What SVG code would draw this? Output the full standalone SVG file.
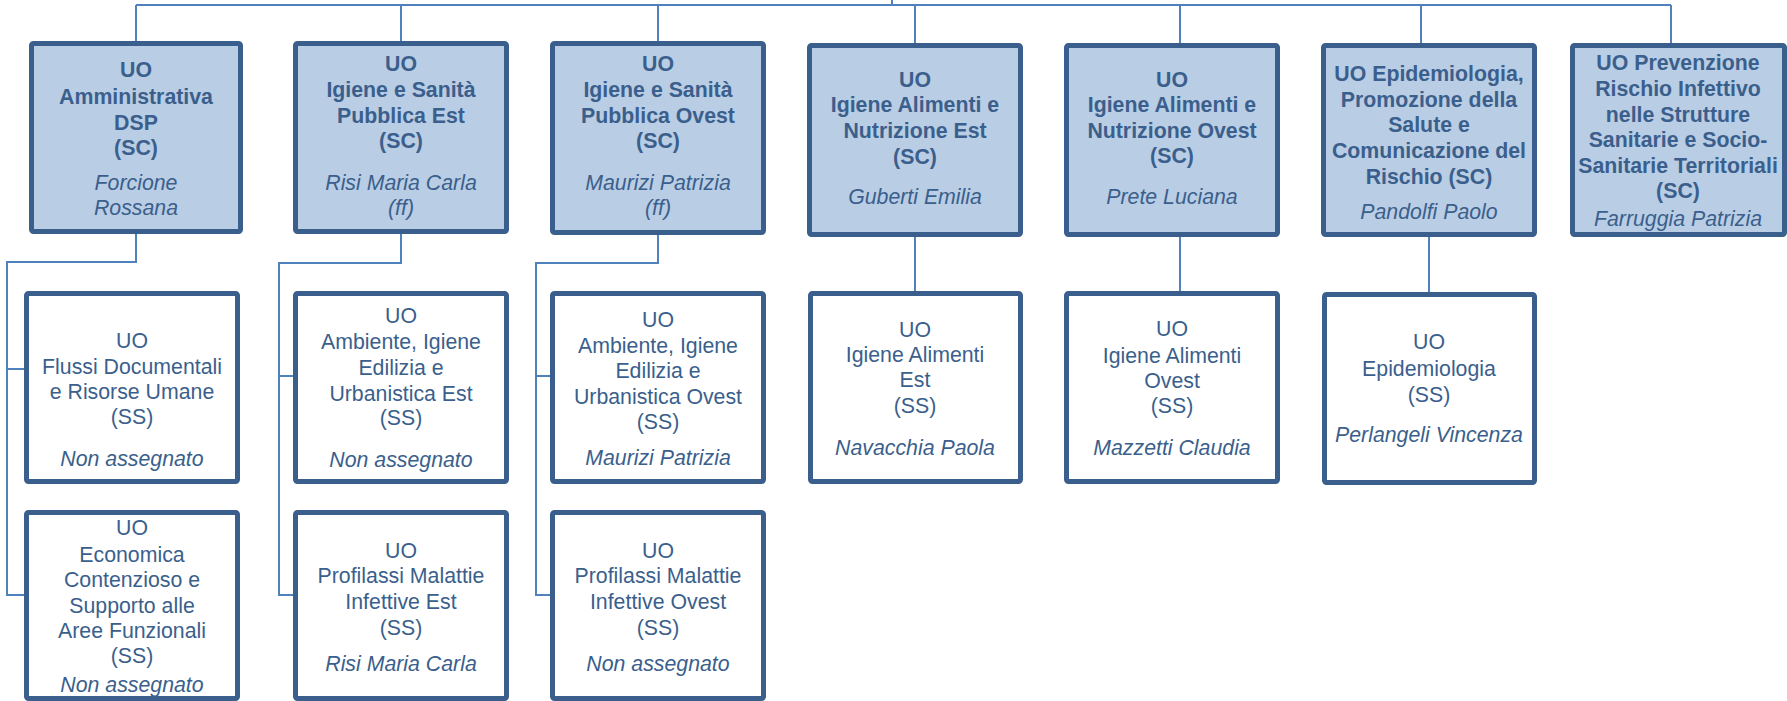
<svg xmlns="http://www.w3.org/2000/svg" width="1787" height="701" viewBox="0 0 1787 701">
<style>
.sc{fill:#b9cde4;stroke:#3b5f8c;stroke-width:5}
.ss{fill:#ffffff;stroke:#3b5f8c;stroke-width:5}
.c{fill:none;stroke:#4f81bd;stroke-width:2}
text{font-family:"Liberation Sans",Arial,sans-serif;font-size:21.3px;fill:#3b5f8c;text-anchor:middle}
.b{font-weight:bold}
.i{font-style:italic}
</style>
<rect width="1787" height="701" fill="#ffffff"/>
<g id="connectors">
<path class="c" d="M892,0V5M136,5H1671M136,5V42M401,5V42M658,5V42M915,5V44M1180,5V44M1421,5V44M1671,5V44"/>
<path class="c" d="M136,233V262H7V595H26M7,369H26"/>
<path class="c" d="M401,233V263H279V595H295M279,376H295"/>
<path class="c" d="M658,234V263H536V595H552M536,376H552"/>
<path class="c" d="M915,236V292M1180,236V292M1429,236V293"/>
</g>
<g id="n1">
<rect class="sc" x="31.5" y="43.5" width="209" height="188" rx="2"/>
<text class="b" x="136" y="77">UO</text>
<text class="b" x="136" y="104">Amministrativa</text>
<text class="b" x="136" y="130">DSP</text>
<text class="b" x="136" y="155">(SC)</text>
<text class="i" x="136" y="190">Forcione</text>
<text class="i" x="136" y="215">Rossana</text>
</g>
<g id="n2">
<rect class="sc" x="295.5" y="43.5" width="211" height="188" rx="2"/>
<text class="b" x="401" y="71">UO</text>
<text class="b" x="401" y="97">Igiene e Sanità</text>
<text class="b" x="401" y="123">Pubblica Est</text>
<text class="b" x="401" y="148">(SC)</text>
<text class="i" x="401" y="190">Risi Maria Carla</text>
<text class="i" x="401" y="215">(ff)</text>
</g>
<g id="n3">
<rect class="sc" x="552.5" y="43.5" width="211" height="189" rx="2"/>
<text class="b" x="658" y="71">UO</text>
<text class="b" x="658" y="97">Igiene e Sanità</text>
<text class="b" x="658" y="123">Pubblica Ovest</text>
<text class="b" x="658" y="148">(SC)</text>
<text class="i" x="658" y="190">Maurizi Patrizia</text>
<text class="i" x="658" y="215">(ff)</text>
</g>
<g id="n4">
<rect class="sc" x="809.5" y="45.5" width="211" height="189" rx="2"/>
<text class="b" x="915" y="87">UO</text>
<text class="b" x="915" y="112">Igiene Alimenti e</text>
<text class="b" x="915" y="138">Nutrizione Est</text>
<text class="b" x="915" y="164">(SC)</text>
<text class="i" x="915" y="204">Guberti Emilia</text>
</g>
<g id="n5">
<rect class="sc" x="1066.5" y="45.5" width="211" height="189" rx="2"/>
<text class="b" x="1172" y="87">UO</text>
<text class="b" x="1172" y="112">Igiene Alimenti e</text>
<text class="b" x="1172" y="138">Nutrizione Ovest</text>
<text class="b" x="1172" y="163">(SC)</text>
<text class="i" x="1172" y="204">Prete Luciana</text>
</g>
<g id="n6">
<rect class="sc" x="1323.5" y="45.5" width="211" height="189" rx="2"/>
<text class="b" x="1429" y="81">UO Epidemiologia,</text>
<text class="b" x="1429" y="107">Promozione della</text>
<text class="b" x="1429" y="132">Salute e</text>
<text class="b" x="1429" y="158">Comunicazione del</text>
<text class="b" x="1429" y="184">Rischio (SC)</text>
<text class="i" x="1429" y="219">Pandolfi Paolo</text>
</g>
<g id="n7">
<rect class="sc" x="1572.5" y="45.5" width="212" height="189" rx="2"/>
<text class="b" x="1678" y="70">UO Prevenzione</text>
<text class="b" x="1678" y="96">Rischio Infettivo</text>
<text class="b" x="1678" y="122">nelle Strutture</text>
<text class="b" x="1678" y="147">Sanitarie e Socio-</text>
<text class="b" x="1678" y="173">Sanitarie Territoriali</text>
<text class="b" x="1678" y="198">(SC)</text>
<text class="i" x="1678" y="226">Farruggia Patrizia</text>
</g>
<g id="n1a">
<rect class="ss" x="26.5" y="293.5" width="211" height="188" rx="2"/>
<text x="132" y="348">UO</text>
<text x="132" y="374">Flussi Documentali</text>
<text x="132" y="399">e Risorse Umane</text>
<text x="132" y="424">(SS)</text>
<text class="i" x="132" y="466">Non assegnato</text>
</g>
<g id="n1b">
<rect class="ss" x="26.5" y="512.5" width="211" height="186" rx="2"/>
<text x="132" y="535">UO</text>
<text x="132" y="562">Economica</text>
<text x="132" y="587">Contenzioso e</text>
<text x="132" y="613">Supporto alle</text>
<text x="132" y="638">Aree Funzionali</text>
<text x="132" y="663">(SS)</text>
<text class="i" x="132" y="692">Non assegnato</text>
</g>
<g id="n2a">
<rect class="ss" x="295.5" y="293.5" width="211" height="188" rx="2"/>
<text x="401" y="323">UO</text>
<text x="401" y="349">Ambiente, Igiene</text>
<text x="401" y="375">Edilizia e</text>
<text x="401" y="401">Urbanistica Est</text>
<text x="401" y="425">(SS)</text>
<text class="i" x="401" y="467">Non assegnato</text>
</g>
<g id="n2b">
<rect class="ss" x="295.5" y="512.5" width="211" height="186" rx="2"/>
<text x="401" y="558">UO</text>
<text x="401" y="583">Profilassi Malattie</text>
<text x="401" y="609">Infettive Est</text>
<text x="401" y="635">(SS)</text>
<text class="i" x="401" y="671">Risi Maria Carla</text>
</g>
<g id="n3a">
<rect class="ss" x="552.5" y="293.5" width="211" height="188" rx="2"/>
<text x="658" y="327">UO</text>
<text x="658" y="353">Ambiente, Igiene</text>
<text x="658" y="378">Edilizia e</text>
<text x="658" y="404">Urbanistica Ovest</text>
<text x="658" y="429">(SS)</text>
<text class="i" x="658" y="465">Maurizi Patrizia</text>
</g>
<g id="n3b">
<rect class="ss" x="552.5" y="512.5" width="211" height="186" rx="2"/>
<text x="658" y="558">UO</text>
<text x="658" y="583">Profilassi Malattie</text>
<text x="658" y="609">Infettive Ovest</text>
<text x="658" y="635">(SS)</text>
<text class="i" x="658" y="671">Non assegnato</text>
</g>
<g id="n4a">
<rect class="ss" x="810.5" y="293.5" width="210" height="188" rx="2"/>
<text x="915" y="337">UO</text>
<text x="915" y="362">Igiene Alimenti</text>
<text x="915" y="387">Est</text>
<text x="915" y="413">(SS)</text>
<text class="i" x="915" y="455">Navacchia Paola</text>
</g>
<g id="n5a">
<rect class="ss" x="1066.5" y="293.5" width="211" height="188" rx="2"/>
<text x="1172" y="336">UO</text>
<text x="1172" y="363">Igiene Alimenti</text>
<text x="1172" y="388">Ovest</text>
<text x="1172" y="413">(SS)</text>
<text class="i" x="1172" y="455">Mazzetti Claudia</text>
</g>
<g id="n6a">
<rect class="ss" x="1324.5" y="294.5" width="210" height="188" rx="2"/>
<text x="1429" y="349">UO</text>
<text x="1429" y="376">Epidemiologia</text>
<text x="1429" y="402">(SS)</text>
<text class="i" x="1429" y="442">Perlangeli Vincenza</text>
</g>
</svg>
